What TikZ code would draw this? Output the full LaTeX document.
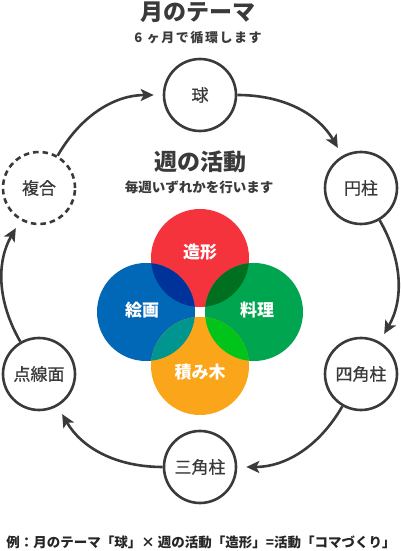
\documentclass[tikz,border=0pt]{standalone}
\usepackage{fontspec}
\setmainfont{Noto Sans CJK JP}
\newfontfamily\medjp[FakeBold=0.6]{Noto Sans CJK JP}
\usetikzlibrary{arrows.meta}
\definecolor{ink}{HTML}{3A3A3A}
\definecolor{cred}{HTML}{F4333C}
\definecolor{cblue}{HTML}{0068B7}
\definecolor{cgreen}{HTML}{00A54F}
\definecolor{corange}{HTML}{FBA61A}
\definecolor{crb}{HTML}{00339A}
\definecolor{crg}{HTML}{006F1F}
\definecolor{cbo}{HTML}{00968F}
\definecolor{cgo}{HTML}{00C41A}
\begin{document}
\begin{tikzpicture}[x=1pt,y=1pt,
  month/.style={circle, draw=ink, line width=2.6pt, fill=white, minimum size=72pt, inner sep=0pt, text=ink, font=\medjp\fontsize{17}{20}\selectfont},
  flow/.style={draw=ink, line width=2.6pt, -{Stealth[length=13pt,width=12pt,inset=3pt]}, shorten >=9pt, bend left=30},
  act/.style={text=white, font=\bfseries\fontsize{17}{20}\selectfont},
  bigtitle/.style={text=ink, font=\bfseries\fontsize{23}{26}\selectfont, inner sep=0pt},
  subtitle/.style={text=ink, font=\bfseries\fontsize{13}{15}\selectfont, inner sep=0pt}]
\useasboundingbox (0,0) rectangle (400,551);
% titles
\node[bigtitle] (t1) at (198,539) {月のテーマ};
\node[subtitle] (t2) at (198,513) {\addfontfeatures{LetterSpace=12}6 ヶ月で循環します};
\node[bigtitle] (t3) at (200,389) {週の活動};
\node[subtitle, font=\bfseries\fontsize{13.5}{15}\selectfont] (t4) at (199,364) {毎週いずれかを行います};
% activity circles
\fill[cred] (200,293) circle[radius=49];
\fill[cblue] (146,239) circle[radius=49];
\fill[cgreen] (254,239) circle[radius=49];
\fill[corange] (200,185) circle[radius=49];
\begin{scope}
  \clip (200,293) circle[radius=49];
  \fill[crb] (146,239) circle[radius=49];
  \fill[crg] (254,239) circle[radius=49];
\end{scope}
\begin{scope}
  \clip (200,185) circle[radius=49];
  \fill[cbo] (146,239) circle[radius=49];
  \fill[cgo] (254,239) circle[radius=49];
\end{scope}
\node[act] (zokei) at (200,299) {造形};
\node[act] (kaiga) at (142,241) {絵画};
\node[act] (ryori) at (257,241) {料理};
\node[act] (tsumiki) at (200,179) {積み木};
% month nodes
\node[month] (kyu) at (200,456) {球};
\node[month] (ench) at (361,363) {円柱};
\node[month] (shik) at (361,177) {四角柱};
\node[month] (sank) at (200,84) {三角柱};
\node[month] (tens) at (39,177) {点線面};
\node[month, dash pattern=on 5.5pt off 4pt] (fuku) at (39,363) {複合};
% flow
\draw[flow] (kyu) to (ench);
\draw[flow] (ench) to (shik);
\draw[flow] (shik) to (sank);
\draw[flow] (sank) to (tens);
\draw[flow] (tens) to (fuku);
\draw[flow] (fuku) to (kyu);
% example
\node[text=black!85, font=\bfseries\fontsize{13.5}{15}\selectfont, inner sep=0pt] (ex) at (201,9) {例：月のテーマ「球」× 週の活動「造形」=活動「コマづくり」};
\end{tikzpicture}
\end{document}
